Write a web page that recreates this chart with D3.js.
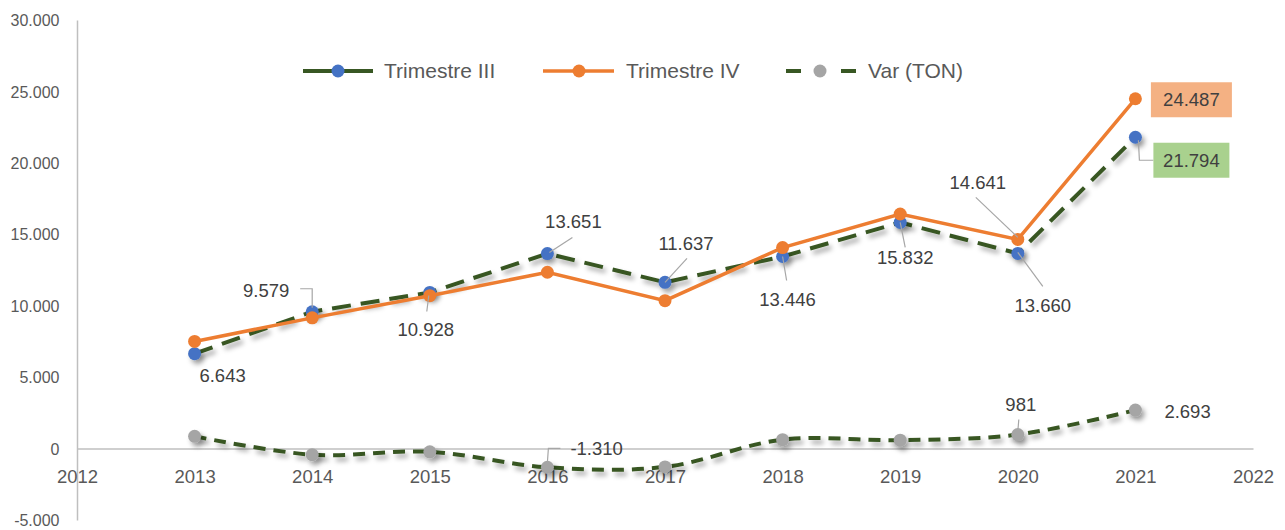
<!DOCTYPE html>
<html><head><meta charset="utf-8">
<script src="https://cdn.jsdelivr.net/npm/d3@7"></script>
<style>
body{margin:0;background:#fff;}
text{font-family:"Liberation Sans",Arial,sans-serif;}
</style>
</head><body>
<svg id="chart" width="1285" height="530"></svg>
<script>
// ---- data ----
const years = [2013, 2014, 2015, 2016, 2017, 2018, 2019, 2020, 2021];
const trimIII = [6643, 9579, 10928, 13651, 11637, 13446, 15832, 13660, 21794];
const trimIV = [7500, 9150, 10700, 12341, 10350, 14070, 16420, 14641, 24487];
const varTon = [857, -429, -228, -1310, -1287, 624, 588, 981, 2693];
const xTicks = [2012, 2013, 2014, 2015, 2016, 2017, 2018, 2019, 2020, 2021, 2022];
const yTicks = [-5000, 0, 5000, 10000, 15000, 20000, 25000, 30000];
const seriesNames = ["Trimestre III", "Trimestre IV", "Var (TON)"];

// ---- label layout (offsets from the point) ----
const labelsIII = [
  {i:0, dx:28, dy:22},
  {i:1, dx:-46, dy:-21, leader:[[-12,-23],[0,-23],[0,-4]]},
  {i:2, dx:-4, dy:37, leader:[[-3,19],[-1,3]]},
  {i:3, dx:26, dy:-32, leader:[[25,-16],[2,-1]]},
  {i:4, dx:21, dy:-39, leader:[[22,-24],[0,0]]},
  {i:5, dx:5, dy:43, leader:[[4,24],[0,0]]},
  {i:6, dx:5, dy:35, leader:[[5,25],[0,0]]},
  {i:7, dx:25, dy:52, leader:[[25,33],[0,-1]]},
  {i:8, dx:56, dy:23, box:{w:76,h:35,fill:"#A9D18E"}, leader:[[3,3],[4,23],[18,23]]}
];
const labelsIV = [
  {i:7, dx:-40, dy:-57, leader:[[-42,-42],[0,-2]]},
  {i:8, dx:56, dy:1, box:{w:81,h:35,fill:"#F4B183"}}
];
const labelsVar = [
  {i:3, dx:23, dy:-19, anchor:"start", leader:[[13,-19],[1,-19],[0,-5]]},
  {i:7, dx:3, dy:-30, leader:[[1,-15],[0,-3]]},
  {i:8, dx:29, dy:1, anchor:"start"}
];

const svg = d3.select("#chart");
const fmt = d3.formatLocale({decimal:",", thousands:".", grouping:[3], currency:["",""], minus:"-"}).format(",");

const x = d3.scaleLinear().domain([2012, 2022]).range([77, 1253]);
const y = d3.scaleLinear().domain([-5000, 30000]).range([520, 20]);

// shadow filter
const defs = svg.append("defs");
const f = defs.append("filter").attr("id","sh").attr("filterUnits","userSpaceOnUse")
  .attr("x",0).attr("y",0).attr("width",1285).attr("height",530);
f.append("feDropShadow").attr("dx",3).attr("dy",4).attr("stdDeviation",2.5)
  .attr("flood-color","#000").attr("flood-opacity",0.35);

const GREEN = "#385723", BLUE = "#4472C4", ORANGE = "#ED7D31", GRAY = "#A5A5A5";
const AXIS = "#BFBFBF", TICK = "#595959", LAB = "#404040", LEAD = "#A6A6A6";

// axes
const yAxis = d3.axisLeft(y).tickValues(yTicks).tickSize(0).tickPadding(0).tickFormat(fmt);
const gy = svg.append("g").attr("transform","translate(77,0)").call(yAxis);
gy.select(".domain").attr("stroke",AXIS).attr("stroke-width",1.5);
gy.selectAll(".tick text").attr("x",-17.5).attr("dy","0.35em").attr("fill",TICK)
  .style("font-size","16px");

const xAxis = d3.axisBottom(x).tickValues(xTicks).tickSize(0).tickPadding(0).tickFormat(d3.format("d"));
const gx = svg.append("g").attr("transform",`translate(0,${y(0)})`).call(xAxis);
gx.select(".domain").attr("stroke",AXIS).attr("stroke-width",1.5);
gx.selectAll(".tick text").attr("y",28).attr("dy","0.35em").attr("fill",TICK)
  .style("font-size","18.5px");

// series
const ptsIII = years.map((d,i)=>[x(d), y(trimIII[i])]);
const ptsIV = years.map((d,i)=>[x(d), y(trimIV[i])]);
const ptsVar = years.map((d,i)=>[x(d), y(varTon[i])]);

// Var (TON)
svg.append("path").attr("d", d3.line().curve(d3.curveCatmullRom.alpha(0.5))(ptsVar))
  .attr("fill","none").attr("stroke",GREEN).attr("stroke-width",4)
  .attr("stroke-dasharray","12,8").attr("filter","url(#sh)");
svg.append("g").attr("filter","url(#sh)").selectAll("circle").data(ptsVar).join("circle")
  .attr("cx",d=>d[0]).attr("cy",d=>d[1]).attr("r",6.5).attr("fill",GRAY);

// Trimestre III
svg.append("path").attr("d", d3.line()(ptsIII))
  .attr("fill","none").attr("stroke",GREEN).attr("stroke-width",4)
  .attr("stroke-dasharray","19,10").attr("filter","url(#sh)");
svg.append("g").attr("filter","url(#sh)").selectAll("circle").data(ptsIII).join("circle")
  .attr("cx",d=>d[0]).attr("cy",d=>d[1]).attr("r",6.5).attr("fill",BLUE);

// Trimestre IV
svg.append("path").attr("d", d3.line()(ptsIV))
  .attr("fill","none").attr("stroke",ORANGE).attr("stroke-width",3.5);
svg.append("g").selectAll("circle").data(ptsIV).join("circle")
  .attr("cx",d=>d[0]).attr("cy",d=>d[1]).attr("r",6.5).attr("fill",ORANGE);

// data labels
function drawLabels(list, pts, vals){
  const g = svg.append("g");
  list.forEach(l=>{
    const [px,py] = pts[l.i];
    if(l.leader){
      g.append("path").attr("d", d3.line()(l.leader.map(o=>[px+o[0],py+o[1]])))
        .attr("fill","none").attr("stroke",LEAD).attr("stroke-width",1.2);
    }
    if(l.box){
      g.append("rect").attr("x",px+l.dx-l.box.w/2).attr("y",py+l.dy-l.box.h/2)
        .attr("width",l.box.w).attr("height",l.box.h).attr("fill",l.box.fill);
    }
    g.append("text").attr("x",px+l.dx).attr("y",py+l.dy).attr("dy","0.35em")
      .attr("text-anchor",l.anchor||"middle").attr("fill",LAB)
      .style("font-size","18.5px").text(fmt(vals[l.i]));
  });
}
drawLabels(labelsIII, ptsIII, trimIII);
drawLabels(labelsIV, ptsIV, trimIV);
drawLabels(labelsVar, ptsVar, varTon);

// legend
const lg = svg.append("g");
const ly = 71;
const legendItems = [
  {name:seriesNames[0], segs:[[303,334],[342,373]], mx:338, mc:BLUE, lc:GREEN, tx:384},
  {name:seriesNames[1], segs:[[543,614]], mx:579, mc:ORANGE, lc:ORANGE, tx:626},
  {name:seriesNames[2], segs:[[786,801],[841,856]], mx:820, mc:GRAY, lc:GREEN, tx:868}
];
legendItems.forEach(it=>{
  const gi = lg.append("g");
  it.segs.forEach(s=>{
    gi.append("line").attr("x1",s[0]).attr("x2",s[1]).attr("y1",ly).attr("y2",ly)
      .attr("stroke",it.lc).attr("stroke-width",it.lc===ORANGE?3.5:4);
  });
  gi.append("circle").attr("cx",it.mx).attr("cy",ly).attr("r",6.5).attr("fill",it.mc);
  lg.append("text").attr("x",it.tx).attr("y",ly).attr("dy","0.35em").attr("fill",TICK)
    .style("font-size","21px").text(it.name);
});
</script>
</body></html>
